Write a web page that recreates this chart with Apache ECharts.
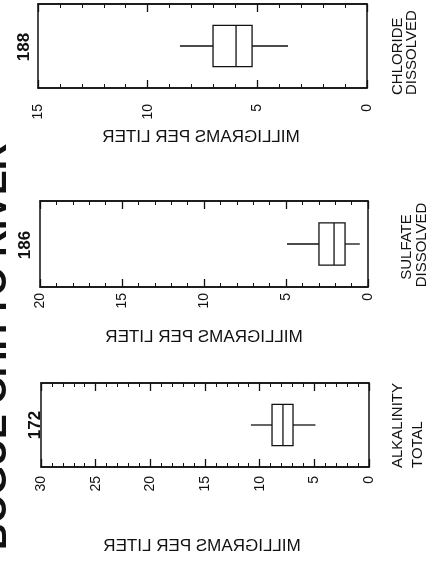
<!DOCTYPE html>
<html><head><meta charset="utf-8">
<script src="https://cdn.jsdelivr.net/npm/echarts@6/dist/echarts.min.js"></script>
<style>html,body{margin:0;padding:0;background:#fff}#c{width:429px;height:573px}</style>
</head><body><div id="c"></div>
<script>
// ---- data ----
const categoryLine1 = ['CHLORIDE', 'SULFATE', 'ALKALINITY'];
const categoryLine2 = ['DISSOLVED', 'DISSOLVED', 'TOTAL'];
const counts = ['188', '186', '172'];
const axisMax = [15, 20, 30];
const whiskerLow = [3.6, 0.5, 4.9];
const q1 = [5.24, 1.4, 6.95];
const median = [5.97, 2.07, 7.87];
const q3 = [7.02, 2.99, 8.87];
const whiskerHigh = [8.53, 4.94, 10.8];
const axisTitle = 'MILLIGRAMS PER LITER';
const heading = 'BOGUE CHITTO RIVER';

// ---- layout ----
const layout = [
  {left: 38, top: 4, width: 329, height: 84, labelMargin: 16,
   countPos: [24, 47], titlePos: [201, 137],
   l1: {x: 398, y: 95, align: 'left'}, l2: {x: 412, y: 95, align: 'left'}},
  {left: 40, top: 201, width: 328, height: 86, labelMargin: 6,
   countPos: [25, 245], titlePos: [204, 337],
   l1: {x: 407, y: 247, align: 'center'}, l2: {x: 422, y: 245, align: 'center'}},
  {left: 41, top: 383, width: 328, height: 84, labelMargin: 9,
   countPos: [35, 425], titlePos: [202, 546],
   l1: {x: 398, y: 468, align: 'left'}, l2: {x: 418, y: 468, align: 'left'}}
];
const INK = '#111';
const FONT = '"Liberation Sans", Arial, Helvetica, sans-serif';

function renderBox(params, api) {
  const lo = api.coord([api.value(0), api.value(5)]);
  const a = api.coord([api.value(1), api.value(5)]);
  const m = api.coord([api.value(2), api.value(5)]);
  const b = api.coord([api.value(3), api.value(5)]);
  const hi = api.coord([api.value(4), api.value(5)]);
  const band = api.size([0, 1])[1];
  const h = band * 0.49;
  const y = lo[1];
  const style = {stroke: INK, fill: null, lineWidth: 1.3};
  const x1 = Math.min(a[0], b[0]), x2 = Math.max(a[0], b[0]);
  return {type: 'group', children: [
    {type: 'rect', shape: {x: x1, y: y - h / 2, width: x2 - x1, height: h}, style: style},
    {type: 'line', shape: {x1: m[0], y1: y - h / 2, x2: m[0], y2: y + h / 2}, style: style},
    {type: 'line', shape: {x1: lo[0], y1: y, x2: a[0], y2: y}, style: style},
    {type: 'line', shape: {x1: b[0], y1: y, x2: hi[0], y2: y}, style: style}
  ]};
}

const grids = [], xAxes = [], yAxes = [], series = [], graphics = [];
layout.forEach((L, i) => {
  grids.push({left: L.left, top: L.top, width: L.width, height: L.height,
    show: true, borderColor: INK, borderWidth: 1.5, backgroundColor: 'transparent',
    containLabel: false, outerBoundsMode: 'none'});
  const base = {
    gridIndex: i, type: 'value', min: 0, max: axisMax[i], interval: 5, inverse: true,
    axisLine: {show: true, lineStyle: {color: INK, width: 1.5}},
    axisTick: {show: true, inside: true, length: 8, lineStyle: {color: INK, width: 1.3}},
    minorTick: {show: true, splitNumber: 5, length: 4, lineStyle: {color: INK, width: 1}},
    splitLine: {show: false}, minorSplitLine: {show: false}
  };
  xAxes.push(Object.assign({}, base, {position: 'bottom',
    axisLabel: {show: true, rotate: 90, margin: L.labelMargin, fontSize: 14, color: INK,
      fontFamily: FONT, showMinLabel: true, showMaxLabel: true, hideOverlap: false}}));
  xAxes.push(Object.assign({}, base, {position: 'top', axisLabel: {show: false}}));
  yAxes.push({gridIndex: i, type: 'category', data: [categoryLine1[i]], show: false});
  series.push({
    type: 'custom', xAxisIndex: 2 * i, yAxisIndex: i, renderItem: renderBox,
    encode: {x: [0, 1, 2, 3, 4], y: 5}, silent: true,
    data: [[whiskerLow[i], q1[i], median[i], q3[i], whiskerHigh[i], 0]]
  });
  graphics.push({type: 'text', x: L.countPos[0], y: L.countPos[1], rotation: Math.PI / 2,
    style: {text: counts[i], fill: INK, font: 'bold 17px ' + FONT, align: 'center', verticalAlign: 'middle'}});
  graphics.push({type: 'text', x: L.l1.x, y: L.l1.y, rotation: Math.PI / 2,
    style: {text: categoryLine1[i], fill: INK, font: '15px ' + FONT, align: L.l1.align, verticalAlign: 'middle'}});
  graphics.push({type: 'text', x: L.l2.x, y: L.l2.y, rotation: Math.PI / 2,
    style: {text: categoryLine2[i], fill: INK, font: '15px ' + FONT, align: L.l2.align, verticalAlign: 'middle'}});
  graphics.push({type: 'text', x: L.titlePos[0], y: L.titlePos[1], scaleX: -1,
    style: {text: axisTitle, fill: INK, font: '17px ' + FONT, align: 'center', verticalAlign: 'middle'}});
});
// cropped page heading on the left edge
graphics.push({type: 'text', x: -4, y: 550, rotation: Math.PI / 2,
  style: {text: heading, fill: INK, font: 'bold 37px ' + FONT, align: 'left', verticalAlign: 'middle'}});

const chart = echarts.init(document.getElementById('c'), null, {renderer: 'canvas'});
chart.setOption({
  animation: false,
  backgroundColor: '#fff',
  grid: grids, xAxis: xAxes, yAxis: yAxes, series: series,
  graphic: graphics
});
</script>
</body></html>
